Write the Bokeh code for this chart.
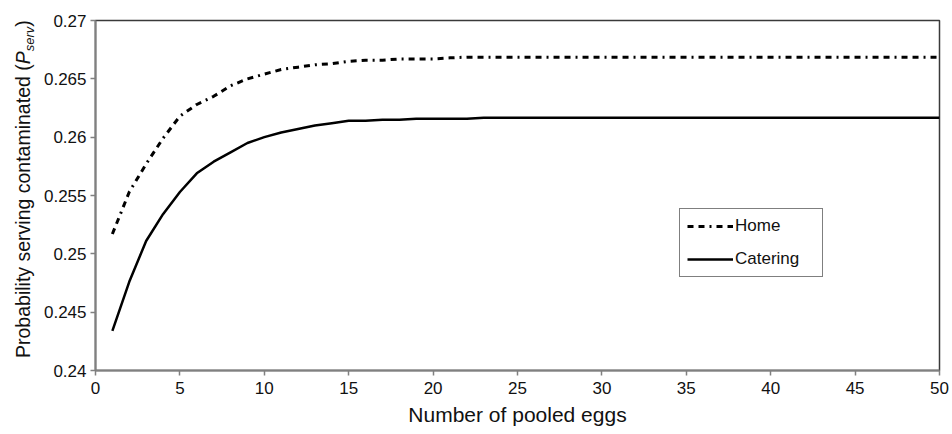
from bokeh.plotting import figure
from bokeh.models import Legend, LegendItem, FixedTicker, Range1d, Div
from bokeh.layouts import row
from bokeh.embed import file_html
from bokeh.resources import INLINE

# ---- data ----
pooled_eggs = list(range(1, 51))
home = [0.2517, 0.2553, 0.2577, 0.2599, 0.2618, 0.2628, 0.2635, 0.2644, 0.2650, 0.2654,
        0.2658, 0.2660, 0.2662, 0.2663, 0.2665, 0.2666, 0.2666, 0.2667, 0.2667, 0.2667,
        0.2668, 0.26686, 0.26686, 0.26686, 0.26686, 0.26686, 0.26686, 0.26686, 0.26686, 0.26686,
        0.26686, 0.26686, 0.26686, 0.26686, 0.26686, 0.26686, 0.26686, 0.26686, 0.26686, 0.26686,
        0.26686, 0.26686, 0.26686, 0.26686, 0.26686, 0.26686, 0.26686, 0.26686, 0.26686, 0.26686]
catering = [0.2434, 0.2476, 0.2511, 0.2534, 0.2553, 0.2569, 0.2579, 0.2587, 0.2595, 0.2600,
            0.2604, 0.2607, 0.2610, 0.2612, 0.2614, 0.2614, 0.2615, 0.2615, 0.26158, 0.26158,
            0.26158, 0.26158, 0.26166, 0.26166, 0.26166, 0.26166, 0.26166, 0.26166, 0.26166, 0.26166,
            0.26166, 0.26166, 0.26166, 0.26166, 0.26166, 0.26166, 0.26166, 0.26166, 0.26166, 0.26166,
            0.26166, 0.26166, 0.26166, 0.26166, 0.26166, 0.26166, 0.26166, 0.26166, 0.26166, 0.26166]
x_ticks = [0, 5, 10, 15, 20, 25, 30, 35, 40, 45, 50]
y_ticks = [0.24, 0.245, 0.25, 0.255, 0.26, 0.265, 0.27]
y_tick_labels = ["0.24", "0.245", "0.25", "0.255", "0.26", "0.265", "0.27"]
series_names = ["Home", "Catering"]
x_title = "Number of pooled eggs"
y_title_main = "Probability serving contaminated ("
y_title_sym = "P"
y_title_sub = "serv"
y_title_end = ")"

FONT = "Liberation Sans"
W, H = 952, 434
DIV_W = 40
L, R, T, B = 95 - DIV_W, 13, 20, 64
X0, X1 = 0, 50
Y0, Y1 = 0.24, 0.27

p = figure(width=W - DIV_W, height=H, output_backend="svg", toolbar_location=None,
           x_range=Range1d(X0, X1), y_range=Range1d(Y0, Y1),
           min_border_left=L, min_border_right=R, min_border_top=T, min_border_bottom=B)
p.background_fill_color = "white"
p.border_fill_color = "white"
p.grid.visible = False
p.outline_line_color = "#3a3a3a"
p.outline_line_width = 1.5

r_home = p.line(pooled_eggs, home, line_color="black", line_width=3, line_dash="6 5 6 5 2 5")
r_cat = p.line(pooled_eggs, catering, line_color="black", line_width=2.5)

for ax in (p.xaxis[0], p.yaxis[0]):
    ax.axis_line_color = "#808080"
    ax.axis_line_width = 2
    ax.major_tick_line_color = "#808080"
    ax.major_tick_line_width = 1.5
    ax.major_tick_out = 5
    ax.major_tick_in = 0
    ax.minor_tick_line_color = None
    ax.major_label_text_font = FONT
    ax.major_label_text_font_size = "17px"
    ax.major_label_text_color = "#111111"

p.xaxis.ticker = FixedTicker(ticks=x_ticks)
p.yaxis.ticker = FixedTicker(ticks=y_ticks)
p.yaxis.major_label_overrides = {t: s for t, s in zip(y_ticks, y_tick_labels)}
p.xaxis.major_label_standoff = 6
p.yaxis.major_label_standoff = 4

p.xaxis.axis_label = x_title
p.xaxis.axis_label_text_font = FONT
p.xaxis.axis_label_text_font_size = "21px"
p.xaxis.axis_label_text_font_style = "normal"
p.xaxis.axis_label_text_color = "#111111"
p.xaxis.axis_label_standoff = 6

legend = Legend(items=[LegendItem(label=series_names[0], renderers=[r_home]),
                       LegendItem(label=series_names[1], renderers=[r_cat])],
                location=(679 - 95, (H - B) - 277), orientation="vertical")
legend.border_line_color = "black"
legend.border_line_width = 1.5
legend.background_fill_color = "white"
legend.background_fill_alpha = 1
legend.label_text_font = FONT
legend.label_text_font_size = "17px"
legend.label_text_color = "#111111"
legend.glyph_width = 46
legend.glyph_height = 20
legend.label_height = 20
legend.label_width = 80
legend.label_standoff = 2
legend.padding = 7
legend.spacing = 13
legend.margin = 0
p.add_layout(legend, "center")

# rotated y-axis title with italic P and subscript "serv"
title_html = (
    '<div style="position:absolute; left:14px; top:358px; transform:rotate(-90deg); '
    'transform-origin:0 0; white-space:nowrap; font-family:\'Liberation Sans\', Arial, sans-serif; '
    'font-size:19.5px; line-height:19.5px; color:#111111;">'
    f'{y_title_main}<i>{y_title_sym}</i>'
    f'<sub style="font-size:13px; font-style:italic; vertical-align:-4px; line-height:0;">{y_title_sub}</sub>'
    f'{y_title_end}</div>'
)
ytitle = Div(text=title_html, width=DIV_W, height=H, margin=0,
             styles={"position": "relative", "overflow": "visible"})

layout = row(ytitle, p, spacing=0)

open("out.html", "w").write(file_html(layout, INLINE))
